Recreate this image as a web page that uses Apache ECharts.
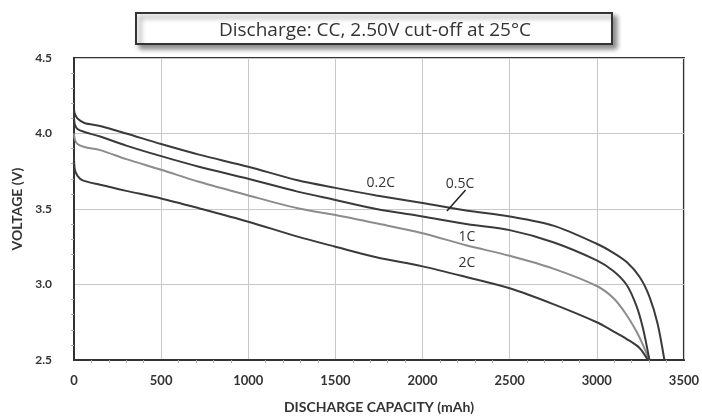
<!DOCTYPE html>
<html>
<head>
<meta charset="utf-8">
<script src="https://cdn.jsdelivr.net/npm/echarts@6/dist/echarts.min.js"></script>
<style>
html,body{margin:0;padding:0;background:#fff;}
#chart{width:702px;height:420px;}
</style>
</head>
<body>
<div id="chart"></div>
<script>
// ---- Data ----
const titleText = 'Discharge: CC, 2.50V cut-off at 25°C';
const xAxisName = 'DISCHARGE CAPACITY (mAh)';
const yAxisName = 'VOLTAGE (V)';
const seriesNames = ['0.2C', '0.5C', '1C', '2C'];

const cap02 = [0, 5, 20, 60, 150, 300, 500, 717, 1000, 1283, 1500, 1735, 2000, 2250, 2500, 2750, 3000, 3095, 3170, 3246, 3302, 3349, 3388];
const volt02 = [4.16, 4.13, 4.10, 4.07, 4.05, 4.00, 3.93, 3.86, 3.78, 3.69, 3.64, 3.59, 3.54, 3.49, 3.45, 3.39, 3.27, 3.21, 3.15, 3.05, 2.92, 2.74, 2.50];

const cap05 = [0, 5, 20, 60, 150, 300, 500, 717, 1000, 1283, 1500, 1735, 2000, 2250, 2500, 2750, 3000, 3095, 3170, 3227, 3265, 3302];
const volt05 = [4.10, 4.06, 4.03, 4.01, 3.98, 3.92, 3.85, 3.78, 3.70, 3.615, 3.56, 3.50, 3.45, 3.40, 3.36, 3.28, 3.16, 3.09, 3.00, 2.86, 2.71, 2.50];

const cap1 = [0, 5, 20, 60, 150, 300, 500, 717, 1000, 1283, 1500, 1735, 2000, 2250, 2500, 2750, 3000, 3095, 3170, 3227, 3265, 3300];
const volt1 = [4.00, 3.96, 3.93, 3.91, 3.89, 3.83, 3.76, 3.68, 3.59, 3.505, 3.46, 3.405, 3.34, 3.26, 3.19, 3.105, 2.99, 2.91, 2.80, 2.69, 2.60, 2.50];

const cap2 = [0, 5, 20, 50, 150, 300, 500, 717, 1000, 1283, 1500, 1735, 2000, 2250, 2500, 2750, 3000, 3095, 3170, 3245, 3293];
const volt2 = [3.84, 3.76, 3.72, 3.69, 3.66, 3.62, 3.57, 3.505, 3.416, 3.317, 3.25, 3.18, 3.12, 3.05, 2.975, 2.87, 2.75, 2.69, 2.64, 2.58, 2.50];

// label anchor positions in data units
const labelCap = [1760, 2215, 2255, 2255];
const labelVolt = [3.672, 3.666, 3.315, 3.142];
// leader line for 0.5C (data units)
const leaderCap = [2140, 2247];
const leaderVolt = [3.487, 3.626];

const xTicks = [0, 500, 1000, 1500, 2000, 2500, 3000, 3500];
const yTicks = [2.5, 3.0, 3.5, 4.0, 4.5];

function pairs(xs, ys) { return xs.map((x, i) => [x, ys[i]]); }

const lineColors = ['#3a3a3a', '#3a3a3a', '#8c8c8c', '#3a3a3a'];
const allData = [pairs(cap02, volt02), pairs(cap05, volt05), pairs(cap1, volt1), pairs(cap2, volt2)];

const chart = echarts.init(document.getElementById('chart'), null, {renderer: 'canvas'});

const series = allData.map((d, i) => ({
  name: seriesNames[i],
  type: 'line',
  data: d,
  showSymbol: false,
  smooth: 0.3,
  lineStyle: {color: lineColors[i], width: 2},
  z: i === 2 ? 3 : 4,
  markPoint: {
    symbol: 'circle', symbolSize: 1,
    itemStyle: {color: 'rgba(0,0,0,0)'},
    label: {show: true, position: 'inside', color: '#333', fontFamily: 'Open Sans', fontSize: 14, formatter: seriesNames[i]},
    data: [{coord: [labelCap[i], labelVolt[i]]}]
  },
  markLine: i === 1 ? {
    silent: true, symbol: ['none', 'none'],
    lineStyle: {color: '#222', width: 1.5, type: 'solid'},
    label: {show: false},
    data: [[{coord: [leaderCap[0], leaderVolt[0]]}, {coord: [leaderCap[1], leaderVolt[1]]}]]
  } : undefined
}));

const option = {
  animation: false,
  backgroundColor: '#fff',
  title: {
    text: titleText,
    left: 370, top: 16, textAlign: 'center',
    textStyle: {fontFamily: 'Open Sans', fontSize: 19, fontWeight: 'normal', color: '#333'},
    z: 10
  },
  graphic: [{
    type: 'rect', z: 1,
    shape: {x: 136, y: 13, width: 476, height: 31},
    style: {fill: '#fff', stroke: '#333', lineWidth: 2,
      shadowBlur: 5, shadowOffsetX: 4, shadowOffsetY: 4, shadowColor: 'rgba(0,0,0,0.45)'}
  }],
  grid: {left: 74, right: 12, top: 58, bottom: 60, show: true, borderColor: '#333', borderWidth: 2, backgroundColor: 'transparent'},
  xAxis: {
    type: 'value', min: xTicks[0], max: xTicks[xTicks.length - 1], interval: 500,
    name: xAxisName, nameLocation: 'middle', nameGap: 40,
    nameTextStyle: {fontFamily: 'Lato', fontWeight: 'bold', fontSize: 14, color: '#333'},
    axisLine: {show: true, lineStyle: {color: '#333', width: 2}},
    axisTick: {show: false},
    minorTick: {show: true, splitNumber: 5, length: 3, lineStyle: {color: '#aaa'}},
    axisLabel: {fontFamily: 'Lato', fontWeight: 'bold', fontSize: 13, color: '#333', margin: 14,
      formatter: v => String(v)},
    splitLine: {show: true, lineStyle: {color: '#c8c8c8', width: 1}}
  },
  yAxis: {
    type: 'value', min: yTicks[0], max: yTicks[yTicks.length - 1], interval: 0.5,
    name: yAxisName, nameLocation: 'middle', nameGap: 46, nameRotate: 90,
    nameTextStyle: {fontFamily: 'Lato', fontWeight: 'bold', fontSize: 14, color: '#333'},
    axisLine: {show: true, lineStyle: {color: '#333', width: 2}},
    axisTick: {show: false},
    minorTick: {show: true, splitNumber: 5, length: 3, lineStyle: {color: '#aaa'}},
    axisLabel: {fontFamily: 'Lato', fontWeight: 'bold', fontSize: 12, color: '#333', margin: 22,
      formatter: v => v.toFixed(1)},
    splitLine: {show: true, lineStyle: {color: '#c8c8c8', width: 1}}
  },
  series: series
};
chart.setOption(option);
</script>
</body>
</html>
